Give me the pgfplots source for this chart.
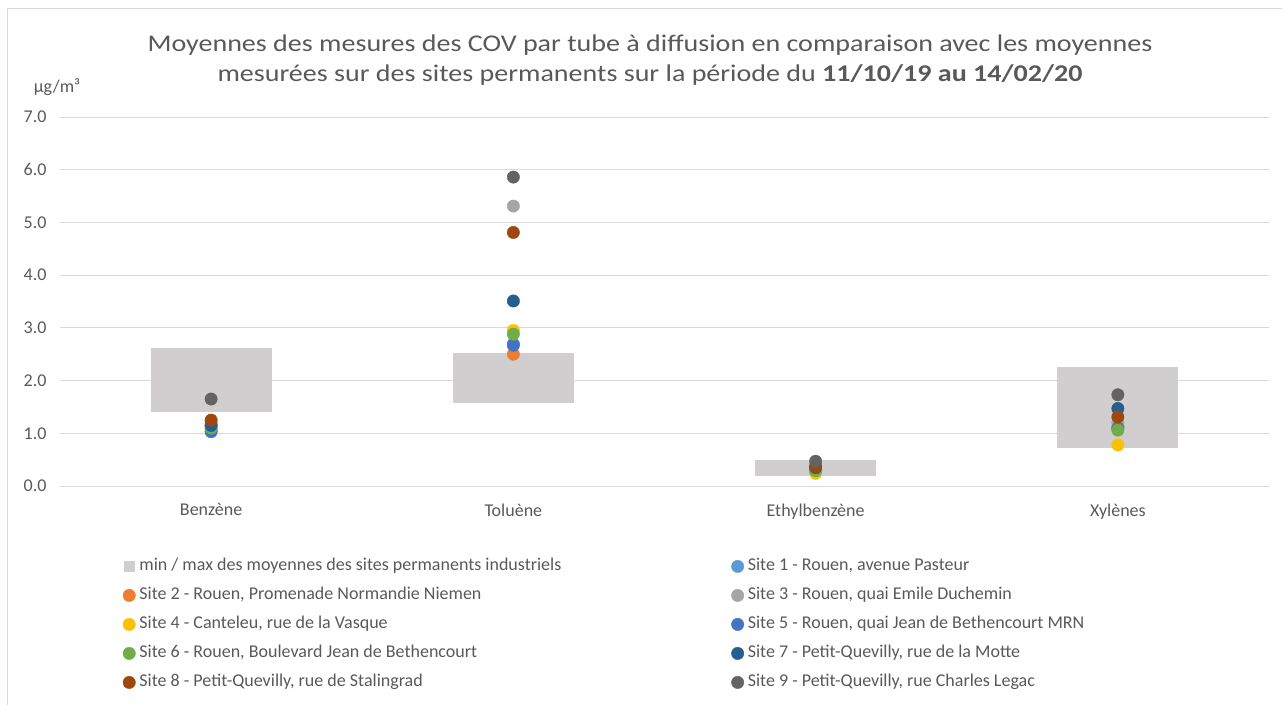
\documentclass[border=0pt]{standalone}
\usepackage{pgfplots}
\pgfplotsset{compat=1.18}
\usepackage{fontspec}
\setmainfont{Carlito}
\definecolor{txt}{HTML}{595959}
\definecolor{gridc}{HTML}{D9D9D9}
\definecolor{boxgray}{HTML}{D0CECE}
\definecolor{s1}{HTML}{5B9BD5}
\definecolor{s2}{HTML}{ED7D31}
\definecolor{s3}{HTML}{A5A5A5}
\definecolor{s4}{HTML}{FFC000}
\definecolor{s5}{HTML}{4472C4}
\definecolor{s6}{HTML}{70AD47}
\definecolor{s7}{HTML}{255E91}
\definecolor{s8}{HTML}{9E480E}
\definecolor{s9}{HTML}{636363}
\newcommand{\lw}[1]{\makebox[580pt][l]{#1}}
\pgfplotsset{site/.style={only marks, mark=*, mark size=6.2pt, color=#1, mark options={fill=#1, draw=#1}}}
\begin{document}
\begin{tikzpicture}[x=1pt,y=1pt]
\begin{axis}[
  name=ax,
  scale only axis, width=1209pt, height=369pt,
  xmin=-0.5, xmax=3.5, ymin=0, ymax=7,
  xtick={0,1,2,3},
  xticklabels={Benzène,Toluène,Ethylbenzène,Xylènes},
  ytick={0,1,2,3,4,5,6,7},
  /pgf/number format/assume math mode=true,
  yticklabel style={/pgf/number format/fixed,/pgf/number format/fixed zerofill,/pgf/number format/precision=1, xshift=-10pt},
  xticklabel style={yshift=-14pt},
  ticklabel style={text=txt, font=\fontsize{18}{21}\selectfont},
  axis line style={draw=none},
  tick style={draw=none},
  ymajorgrids,
  major grid style={draw=gridc, line width=1pt},
  clip=false,
  legend columns=2,
  legend cell align=left,
  legend style={
    at={(0.0495,-0.189)}, anchor=north west, draw=none, fill=none,
    text=txt, font=\fontsize{18}{21}\selectfont,
    nodes={inner sep=0pt, text height=13pt, text depth=4pt},
    row sep=12pt,
    /tikz/every odd column/.append style={column sep=4pt},
    /tikz/every even column/.append style={column sep=12pt},
  },
  legend image code/.code={\draw[#1] plot coordinates {(0pt,0pt)};},
]
\addplot[fill=boxgray, draw=none, legend image code/.code={\fill[boxgray] (-5.5pt,-5.5pt) rectangle (5.5pt,5.5pt);}]
  coordinates {(-0.2,1.40) (0.2,1.40) (0.2,2.62) (-0.2,2.62)} -- cycle;
\addlegendentry{\lw{min / max des moyennes des sites permanents industriels}}
\addplot[fill=boxgray, draw=none, forget plot] coordinates {(0.8,1.57) (1.2,1.57) (1.2,2.52) (0.8,2.52)} -- cycle;
\addplot[fill=boxgray, draw=none, forget plot] coordinates {(1.8,0.19) (2.2,0.19) (2.2,0.49) (1.8,0.49)} -- cycle;
\addplot[fill=boxgray, draw=none, forget plot] coordinates {(2.8,0.72) (3.2,0.72) (3.2,2.26) (2.8,2.26)} -- cycle;
\addplot[site=s1] coordinates {(0,1.05) (1,2.70) (2,0.30) (3,1.12)};
\addlegendentry{Site 1 - Rouen, avenue Pasteur}
\addplot[site=s2] coordinates {(0,1.15) (1,2.50) (2,0.30) (3,1.10)};
\addlegendentry{\lw{Site 2 - Rouen, Promenade Normandie Niemen}}
\addplot[site=s3] coordinates {(0,1.20) (1,5.31) (2,0.35) (3,1.20)};
\addlegendentry{Site 3 - Rouen, quai Emile Duchemin}
\addplot[site=s4] coordinates {(0,1.10) (1,2.95) (2,0.24) (3,0.78)};
\addlegendentry{\lw{Site 4 - Canteleu, rue de la Vasque}}
\addplot[site=s5] coordinates {(0,1.03) (1,2.67) (2,0.30) (3,1.10)};
\addlegendentry{Site 5 - Rouen, quai Jean de Bethencourt MRN}
\addplot[site=s6] coordinates {(0,1.10) (1,2.88) (2,0.29) (3,1.06)};
\addlegendentry{\lw{Site 6 - Rouen, Boulevard Jean de Bethencourt}}
\addplot[site=s7] coordinates {(0,1.15) (1,3.51) (2,0.35) (3,1.47)};
\addlegendentry{Site 7 - Petit-Quevilly, rue de la Motte}
\addplot[site=s8] coordinates {(0,1.25) (1,4.81) (2,0.37) (3,1.31)};
\addlegendentry{\lw{Site 8 - Petit-Quevilly, rue de Stalingrad}}
\addplot[site=s9] coordinates {(0,1.65) (1,5.86) (2,0.47) (3,1.73)};
\addlegendentry{Site 9 - Petit-Quevilly, rue Charles Legac}
\end{axis}
\begin{scope}[shift={(ax.south west)}]
\draw[gridc, line width=1pt] (-52,-230) -- (-52,477) -- (1240,477);
\node[text=txt, font=\fontsize{24}{30}\selectfont, align=center, xscale=1.168, transform shape] at (590,426)
  {Moyennes des mesures des COV par tube à diffusion en comparaison avec les moyennes\\
   mesurées sur des sites permanents sur la période du \textbf{11/10/19 au 14/02/20}};
\node[text=txt, font=\fontsize{18}{21}\selectfont] at (-3,399) {µg/m³};
\pgfresetboundingbox
\path[use as bounding box] (-60,-218) rectangle (1222,486);
\end{scope}
\end{tikzpicture}
\end{document}
